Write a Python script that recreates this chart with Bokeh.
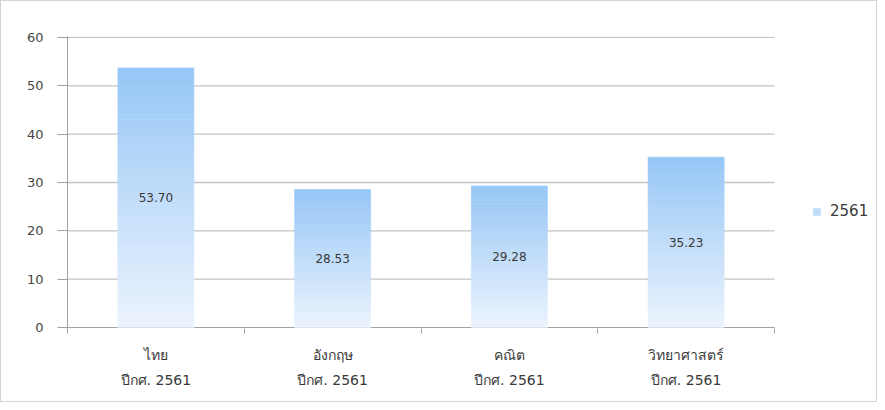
from bokeh.plotting import figure
from bokeh.models import (FixedTicker, Range1d, Legend, LegendItem, ColumnDataSource,
                          LabelSet, LinearAxis)
from bokeh.embed import file_html
from bokeh.resources import INLINE
from bokeh.core.properties import value

# ---- data ----
subjects = ["ไทย", "อังกฤษ", "คณิต", "วิทยาศาสตร์"]
year_labels = ["ปีกศ. 2561", "ปีกศ. 2561", "ปีกศ. 2561", "ปีกศ. 2561"]
series_name = "2561"
scores = [53.70, 28.53, 29.28, 35.23]
y_ticks = [0, 10, 20, 30, 40, 50, 60]

ncat = len(subjects)
# frame extends to the right to hold the legend; categories occupy [0, ncat]
p = figure(width=877, height=402, output_backend="svg", toolbar_location=None,
           x_range=Range1d(0, ncat * 809 / 707), y_range=Range1d(-0.2, 60.2),
           min_border_left=66, min_border_right=2, min_border_top=35, min_border_bottom=75)
p.outline_line_color = None
p.background_fill_color = "white"
p.border_fill_color = "white"

# gridlines and axis baseline spanning the category area only
grid_y = [t for t in y_ticks if t > 0]
p.segment(x0=[0] * len(grid_y), x1=[ncat] * len(grid_y), y0=grid_y, y1=grid_y,
          line_color="#c4c4c4", line_width=1.3)
p.segment(x0=[0], x1=[ncat], y0=[0], y1=[0], line_color="#a0a0a0", line_width=1)

# gradient bars built from stacked slices
n = 40
top = (150, 198, 246)
bot = (236, 244, 253)
xs = [i + 0.5 for i in range(ncat)]
mid = None
for k in range(n):
    f0 = k / n
    f1 = (k + 1) / n
    t = (f0 + f1) / 2
    c = tuple(int(round(bot[j] + (top[j] - bot[j]) * t)) for j in range(3))
    col = "#%02x%02x%02x" % c
    src = ColumnDataSource(dict(x=xs, b=[v * f0 for v in scores], t=[v * f1 for v in scores]))
    r = p.vbar(x="x", bottom="b", top="t", width=0.43, source=src,
               fill_color=col, line_color=col, line_width=0.6)
    if k == n // 2:
        mid = r

# value labels
lab_src = ColumnDataSource(dict(x=xs, y=[v / 2 for v in scores], t=["%.2f" % v for v in scores]))
p.add_layout(LabelSet(x="x", y="y", text="t", source=lab_src, text_align="center",
                      text_baseline="middle", text_font_size="12px", text_color="#3a3a3a",
                      text_font=value("DejaVu Sans")))

# axes
p.yaxis.ticker = FixedTicker(ticks=y_ticks)
p.yaxis.axis_line_color = "#a0a0a0"
p.yaxis.major_tick_line_color = "#a0a0a0"
p.yaxis.major_tick_out = 10
p.yaxis.major_tick_in = 0
p.yaxis.minor_tick_line_color = None
p.yaxis.major_label_text_font = "DejaVu Sans"
p.yaxis.major_label_text_font_size = "13px"
p.yaxis.major_label_text_color = "#454545"
p.yaxis.major_label_standoff = 14

p.xaxis.ticker = FixedTicker(ticks=xs, minor_ticks=list(range(ncat + 1)))
p.xaxis.major_label_overrides = {x: s for x, s in zip(xs, subjects)}
p.xaxis.axis_line_color = None
p.xaxis.major_tick_line_color = None
p.xaxis.minor_tick_line_color = "#a0a0a0"
p.xaxis.minor_tick_out = 5
p.xaxis.minor_tick_in = 0
p.xaxis.major_label_text_font = "DejaVu Sans"
p.xaxis.major_label_text_font_size = "14px"
p.xaxis.major_label_text_color = "#3a3a3a"
p.xaxis.major_label_standoff = 12

ax2 = LinearAxis(ticker=FixedTicker(ticks=xs),
                 major_label_overrides={x: s for x, s in zip(xs, year_labels)},
                 axis_line_color=None, major_tick_line_color=None, minor_tick_line_color=None,
                 major_label_text_font="DejaVu Sans", major_label_text_font_size="14px",
                 major_label_text_color="#3a3a3a", major_label_standoff=0)
p.add_layout(ax2, "below")

p.xgrid.grid_line_color = None
p.ygrid.grid_line_color = None

legend = Legend(items=[LegendItem(label=series_name, renderers=[mid])],
                location=(745, 108), glyph_width=9, glyph_height=9,
                label_text_font="DejaVu Sans", label_text_font_size="15px",
                label_text_color="#3a3a3a", border_line_color=None,
                background_fill_alpha=0, padding=0, margin=0, label_standoff=9)
p.add_layout(legend, "center")

p.styles = {"border": "1px solid #d4d4d4"}

open("out.html", "w").write(file_html(p, INLINE))
